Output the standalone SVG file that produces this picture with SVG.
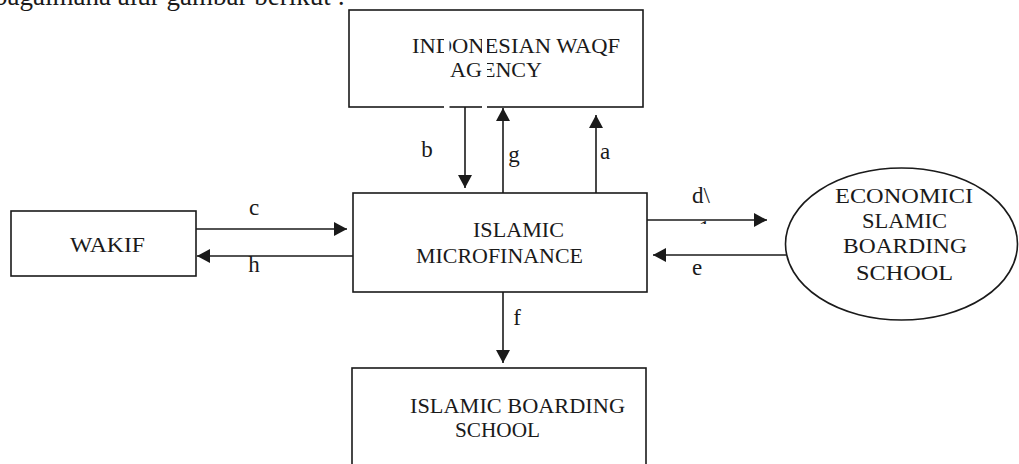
<svg xmlns="http://www.w3.org/2000/svg" width="1019" height="464" viewBox="0 0 1019 464">
<style>
.box{fill:#fff;stroke:#1a1a1a;stroke-width:1.6}
text{font-family:'Liberation Serif',serif !important;fill:#1a1a1a}
.t{font-size:22px}
.lbl{font-size:23px}
.ln{stroke:#1a1a1a;stroke-width:1.6;fill:none;marker-end:url(#ah)}
</style>
<defs>
<marker id="ah" markerUnits="userSpaceOnUse" markerWidth="14" markerHeight="14" refX="13" refY="7" orient="auto">
<path d="M0,0 L13,7 L0,14 z" fill="#1a1a1a"/>
</marker>
<clipPath id="clip1"><rect x="685" y="215" width="25" height="9"/></clipPath>
</defs>
<rect width="1019" height="464" fill="#fff"/>
<text x="-6" y="5" font-size="27" style="font-family:'Liberation Serif',serif" textLength="351" lengthAdjust="spacingAndGlyphs">bagaimana alur gambar berikut :</text>

<g id="bwi">
<rect class="box" x="349" y="10" width="294" height="97"/>
<text class="t" style="font-family:'Liberation Serif',serif" x="412" y="53" textLength="208" lengthAdjust="spacingAndGlyphs">INDONESIAN WAQF</text>
<text class="t" style="font-family:'Liberation Serif',serif" x="450" y="77" textLength="92" lengthAdjust="spacingAndGlyphs">AGENCY</text>
</g>
<g id="microfinance">
<rect class="box" x="353" y="193" width="294" height="99"/>
<text class="t" style="font-family:'Liberation Serif',serif" x="473" y="237" textLength="91" lengthAdjust="spacingAndGlyphs">ISLAMIC</text>
<text class="t" style="font-family:'Liberation Serif',serif" x="416" y="263" textLength="167" lengthAdjust="spacingAndGlyphs">MICROFINANCE</text>
</g>
<g id="wakif">
<rect class="box" x="11" y="211" width="185" height="65"/>
<text class="t" style="font-family:'Liberation Serif',serif" x="70" y="252" textLength="75" lengthAdjust="spacingAndGlyphs">WAKIF</text>
</g>
<g id="economic">
<ellipse class="box" cx="901.5" cy="244" rx="116" ry="76"/>
<text class="t" style="font-family:'Liberation Serif',serif" x="835" y="203" textLength="138" lengthAdjust="spacingAndGlyphs">ECONOMICI</text>
<text class="t" style="font-family:'Liberation Serif',serif" x="862" y="228" textLength="85" lengthAdjust="spacingAndGlyphs">SLAMIC</text>
<text class="t" style="font-family:'Liberation Serif',serif" x="843" y="253" textLength="124" lengthAdjust="spacingAndGlyphs">BOARDING</text>
<text class="t" style="font-family:'Liberation Serif',serif" x="856" y="280" textLength="97" lengthAdjust="spacingAndGlyphs">SCHOOL</text>
</g>
<g id="boarding">
<rect class="box" x="352" y="368" width="294" height="120"/>
<text class="t" style="font-family:'Liberation Serif',serif" x="410" y="413" textLength="215" lengthAdjust="spacingAndGlyphs">ISLAMIC BOARDING</text>
<text class="t" style="font-family:'Liberation Serif',serif" x="455" y="437" textLength="85" lengthAdjust="spacingAndGlyphs">SCHOOL</text>
</g>

<g id="artifacts">
<rect x="444" y="36" width="5.5" height="88" fill="#fff"/>
<rect x="482" y="36" width="5" height="88" fill="#fff"/>
</g>

<g id="connectors">
<line class="ln" x1="465" y1="107" x2="465" y2="188"/>
<line class="ln" x1="503" y1="193" x2="503" y2="108"/>
<line class="ln" x1="596" y1="193" x2="596" y2="115"/>
<line class="ln" x1="196" y1="229" x2="347" y2="229"/>
<line class="ln" x1="353" y1="256" x2="197" y2="256"/>
<line class="ln" x1="647" y1="220" x2="767" y2="220"/>
<line class="ln" x1="786" y1="255" x2="653" y2="255"/>
<line class="ln" x1="503" y1="292" x2="503" y2="363"/>
<text class="lbl" style="font-family:'Liberation Serif',serif" x="427" y="157" text-anchor="middle">b</text>
<text class="lbl" style="font-family:'Liberation Serif',serif" x="514" y="162" text-anchor="middle">g</text>
<text class="lbl" style="font-family:'Liberation Serif',serif" x="605" y="159" text-anchor="middle">a</text>
<text class="lbl" style="font-family:'Liberation Serif',serif" x="254" y="215" text-anchor="middle">c</text>
<text class="lbl" style="font-family:'Liberation Serif',serif" x="254" y="272" text-anchor="middle">h</text>
<text class="lbl" style="font-family:'Liberation Serif',serif" x="692" y="203">d\</text>
<text class="lbl" style="font-family:'Liberation Serif',serif" x="693" y="236" clip-path="url(#clip1)">.1</text>
<text class="lbl" style="font-family:'Liberation Serif',serif" x="692" y="275">e</text>
<text class="lbl" style="font-family:'Liberation Serif',serif" x="517" y="325" text-anchor="middle">f</text>
</g>
</svg>
